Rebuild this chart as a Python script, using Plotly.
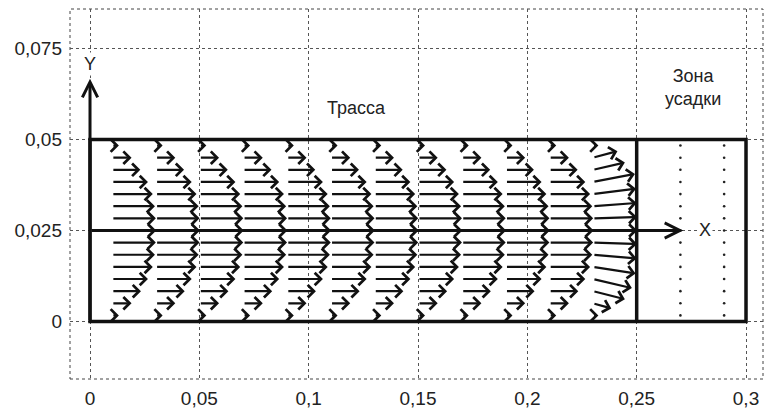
import plotly.graph_objects as go

# ---- data ----
x_ticks = [0, 0.05, 0.1, 0.15, 0.2, 0.25, 0.3]
x_ticktext = ["0", "0,05", "0,1", "0,15", "0,2", "0,25", "0,3"]
y_ticks = [0, 0.025, 0.05, 0.075]
y_ticktext = ["0", "0,025", "0,05", "0,075"]

# arrow tail columns (x) and rows (y)
x_cols = [0.01, 0.03, 0.05, 0.07, 0.09, 0.11, 0.13, 0.15, 0.17, 0.19, 0.21, 0.23]
y_rows = [0.00167, 0.005, 0.00833, 0.01167, 0.015, 0.01833, 0.02167, 0.025,
          0.02833, 0.03167, 0.035, 0.03833, 0.04167, 0.045, 0.04833]

# developed velocity profile (x component, data units) for all columns but the last
u_profile = [0.0032, 0.0090, 0.0133, 0.0165, 0.0187, 0.0197, 0.0201, 0.0203,
             0.0201, 0.0197, 0.0187, 0.0165, 0.0130, 0.0090, 0.0032]
# last column near the end wall
u_last = [0.0025, 0.0084, 0.0146, 0.0178, 0.0195, 0.0200, 0.0202, 0.0203,
          0.0202, 0.0200, 0.0197, 0.0192, 0.0146, 0.0112, 0.0025]
v_last = [0.0, -0.0014, -0.0022, -0.0025, -0.0018, -0.0010, -0.0004, 0.0,
          0.0004, 0.0009, 0.0015, 0.0022, 0.0020, 0.0018, 0.0]

# dots in the shrink zone
dot_cols = [0.27, 0.29]

# channel geometry
channel_len = 0.3
channel_h = 0.05
track_end = 0.25
y_axis_top = 0.0667
x_axis_end = 0.2713

ink = "#111111"
fig = go.Figure()

# dots in shrink zone
dx, dy = [], []
for c in dot_cols:
    for r in y_rows:
        dx.append(c)
        dy.append(r)
fig.add_trace(go.Scatter(x=dx, y=dy, mode="markers",
                         marker=dict(size=2.6, color="#222"), hoverinfo="skip",
                         showlegend=False))

annotations = []
for ci, cx in enumerate(x_cols):
    last = ci == len(x_cols) - 1
    for ri, ry in enumerate(y_rows):
        u = u_last[ri] if last else u_profile[ri]
        v = v_last[ri] if last else 0.0
        annotations.append(dict(
            x=cx + u, y=ry + v, ax=cx, ay=ry,
            xref="x", yref="y", axref="x", ayref="y",
            text="", showarrow=True, arrowhead=4, arrowsize=1.1,
            arrowwidth=2.2, arrowcolor=ink, standoff=0, startstandoff=0))

# axis arrows
annotations.append(dict(x=0, y=y_axis_top, ax=0, ay=0, xref="x", yref="y",
                        axref="x", ayref="y", text="", showarrow=True,
                        arrowhead=5, arrowsize=1.0, arrowwidth=3, arrowcolor=ink))
annotations.append(dict(x=x_axis_end, y=0.025, ax=0, ay=0.025, xref="x", yref="y",
                        axref="x", ayref="y", text="", showarrow=True,
                        arrowhead=5, arrowsize=1.0, arrowwidth=3, arrowcolor=ink))

font_txt = dict(family="Liberation Sans, Arial, sans-serif", size=18, color="#222")
annotations.append(dict(x=0, y=0.0708, text="Y", showarrow=False, xref="x", yref="y",
                        font=font_txt, bgcolor="white"))
annotations.append(dict(x=0.2812, y=0.025, text="X", showarrow=False, xref="x", yref="y",
                        font=font_txt, bgcolor="white"))
annotations.append(dict(x=0.122, y=0.0587, text="Трасса", showarrow=False,
                        xref="x", yref="y", font=font_txt))
annotations.append(dict(x=0.2758, y=0.0644, text="Зона<br>усадки", showarrow=False,
                        xref="x", yref="y", font=font_txt))

shapes = [
    dict(type="rect", xref="paper", yref="paper", x0=0, y0=0, x1=1, y1=1,
         line=dict(color="#444", width=1, dash="dot"), layer="below"),
    dict(type="rect", xref="x", yref="y", x0=0, y0=0, x1=channel_len, y1=channel_h,
         line=dict(color=ink, width=3.5)),
    dict(type="line", xref="x", yref="y", x0=track_end, y0=0, x1=track_end, y1=channel_h,
         line=dict(color=ink, width=3.5)),
]

tick_font = dict(family="Liberation Sans, Arial, sans-serif", size=19, color="#222")
fig.update_layout(
    width=771, height=409,
    margin=dict(l=70, r=8, t=9, b=30),
    paper_bgcolor="white", plot_bgcolor="white",
    showlegend=False,
    annotations=annotations, shapes=shapes,
    xaxis=dict(range=[-0.00915, 0.30777], tickvals=x_ticks, ticktext=x_ticktext,
               showgrid=True, gridcolor="#555", gridwidth=1, griddash="dot",
               zeroline=False, showline=False, ticks="", tickfont=tick_font,
               ticklabelstandoff=6, automargin=False, fixedrange=True),
    yaxis=dict(range=[-0.0158, 0.08585], tickvals=y_ticks, ticktext=y_ticktext,
               showgrid=True, gridcolor="#555", gridwidth=1, griddash="dot",
               zeroline=False, showline=False, ticks="", tickfont=tick_font,
               ticklabelstandoff=7, automargin=False, fixedrange=True),
)

fig.write_html("out.html")
